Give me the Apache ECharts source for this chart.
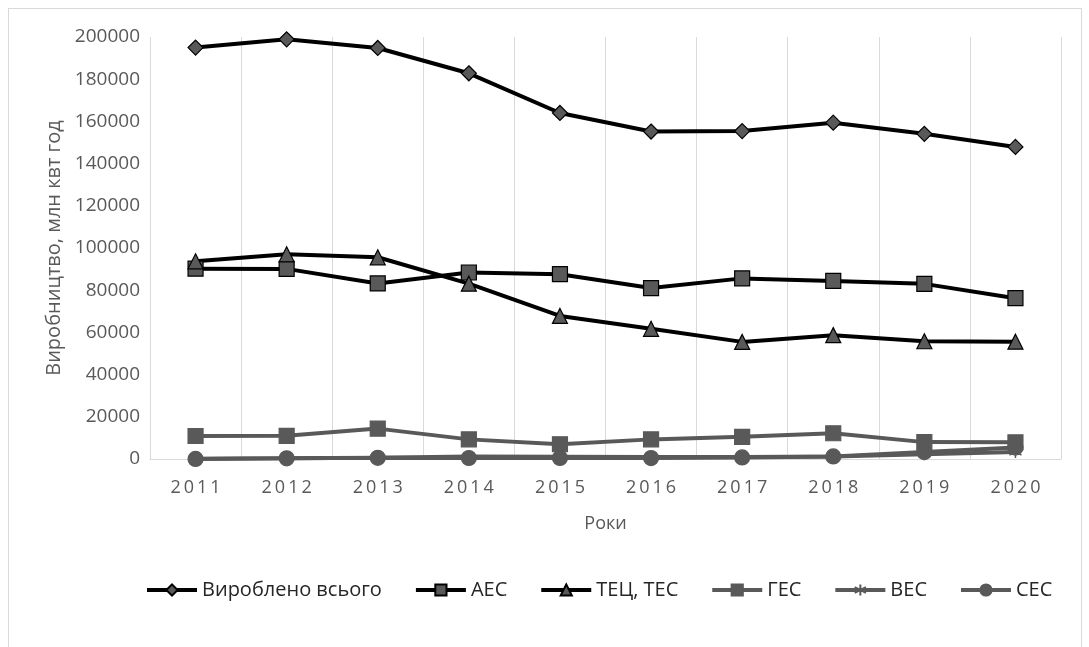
<!DOCTYPE html>
<html>
<head>
<meta charset="utf-8">
<script src="https://cdn.jsdelivr.net/npm/echarts@6/dist/echarts.min.js"></script>
<style>
  html, body { margin: 0; padding: 0; background: #fff; }
  #chart { width: 1089px; height: 647px; }
  #frame { position: absolute; left: 8px; top: 8px; width: 1072px; height: 660px; border: 1px solid #d9d9d9; pointer-events: none; }
</style>
</head>
<body>
<div id="chart"></div>
<div id="frame"></div>
<script>
// дані з рисунка (млн кВт год)
const years = ['2011', '2012', '2013', '2014', '2015', '2016', '2017', '2018', '2019', '2020'];
const totalData = [195000, 198900, 194800, 182800, 164000, 155200, 155400, 159400, 154100, 147900];
const aesData = [90200, 90100, 83200, 88400, 87600, 81000, 85600, 84400, 83000, 76200];
const tecData = [93700, 97000, 95600, 83100, 67800, 61700, 55500, 58700, 55800, 55600];
const gesData = [10900, 11000, 14400, 9300, 7000, 9300, 10500, 12200, 8000, 7900];
const vesData = [90, 300, 640, 1140, 1080, 930, 950, 1200, 2300, 3300];
const sesData = [30, 340, 560, 480, 470, 460, 750, 1200, 3300, 5400];

const textColor = '#595959';
const font = '"Open Sans", "Noto Sans", sans-serif';
const asterisk = 'path://M5,0L5,10M0.7,2.5L9.3,7.5M0.7,7.5L9.3,2.5';

const chart = echarts.init(document.getElementById('chart'));

// допоміжна функція для серії
const makeSeries = (name, data, lineColor, symbol, size, fill, border) => ({
    name: name,
    type: 'line',
    data: data,
    symbol: symbol,
    symbolSize: size,
    lineStyle: { color: lineColor, width: 4 },
    itemStyle: { color: fill, borderColor: border, borderWidth: symbol === asterisk ? 1.5 : 1.2 },
    emphasis: { disabled: true }
});

const option = {
    animation: false,
    textStyle: { fontFamily: font },
    grid: { left: 150, right: 28, top: 37, bottom: 188, containLabel: false },
    xAxis: {
        type: 'category',
        data: years,
        name: 'Роки',
        nameLocation: 'middle',
        nameGap: 56,
        nameTextStyle: { color: textColor, fontSize: 18, fontFamily: font },
        axisLine: { show: true, lineStyle: { color: '#d9d9d9', width: 1 } },
        axisTick: { show: false },
        splitLine: { show: true, lineStyle: { color: '#d9d9d9', width: 1 } },
        axisLabel: { color: textColor, fontSize: 18, margin: 20, fontFamily: font,
            formatter: v => v.split('').join('\u2009') }
    },
    yAxis: {
        type: 'value',
        min: 0,
        max: 200000,
        interval: 20000,
        name: 'Виробництво, млн квт год',
        nameLocation: 'middle',
        nameGap: 84,
        nameTextStyle: { color: textColor, fontSize: 20, fontFamily: font },
        axisLine: { show: false },
        axisTick: { show: false },
        splitLine: { show: false },
        axisLabel: { color: textColor, fontSize: 19, margin: 10, fontFamily: font,
            formatter: v => String(v) }
    },
    legend: {
        top: 575,
        left: 140,
        itemWidth: 50,
        itemHeight: 14,
        itemGap: 32,
        lineStyle: { width: 4 },
        textStyle: { color: '#262626', fontSize: 20, fontFamily: font },
        data: ['Вироблено всього', 'АЕС', 'ТЕЦ, ТЕС', 'ГЕС', 'ВЕС', 'СЕС']
    },
    series: [
        makeSeries('Вироблено всього', totalData, '#000000', 'diamond', 15, '#595959', '#000000'),
        makeSeries('АЕС', aesData, '#000000', 'rect', 15, '#595959', '#000000'),
        makeSeries('ТЕЦ, ТЕС', tecData, '#000000', 'triangle', 15, '#595959', '#000000'),
        makeSeries('ГЕС', gesData, '#595959', 'rect', 15, '#595959', '#595959'),
        makeSeries('ВЕС', vesData, '#595959', asterisk, 12, 'none', '#595959'),
        makeSeries('СЕС', sesData, '#595959', 'circle', 15, '#595959', '#595959')
    ]
};

option && chart.setOption(option);
</script>
</body>
</html>
